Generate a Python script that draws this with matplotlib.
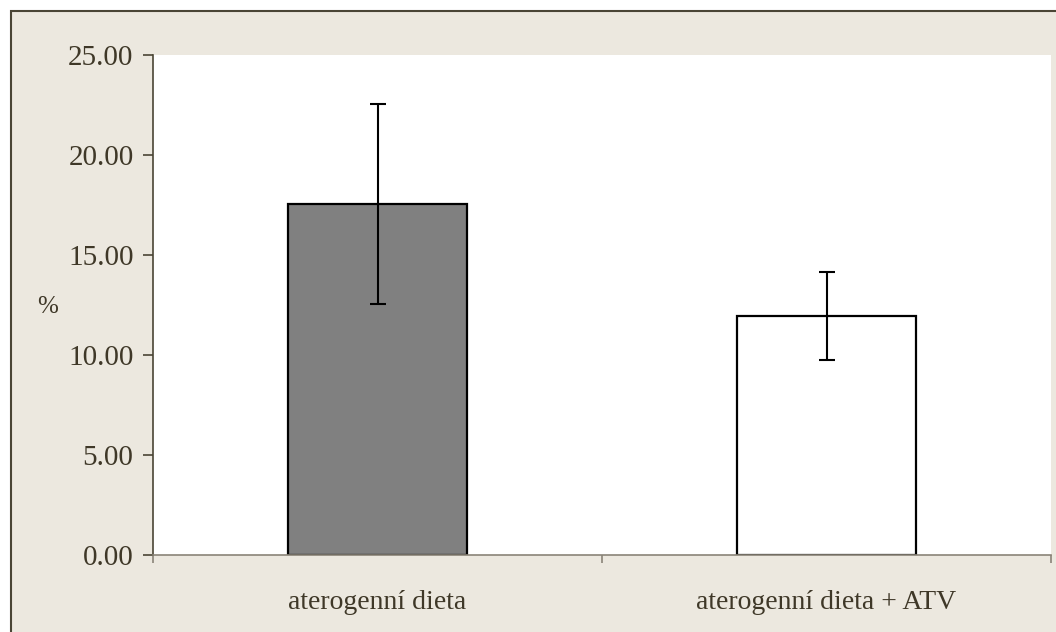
import matplotlib
matplotlib.use("Agg")
import matplotlib.pyplot as plt
from matplotlib.patches import Rectangle

categories = ["aterogenní dieta", "aterogenní dieta + ATV"]
values = [17.55, 11.95]
errors = [5.0, 2.2]
bar_colors = ["#808080", "#ffffff"]
yticks = [0, 5, 10, 15, 20, 25]
ytick_labels = ["0.00", "5.00", "10.00", "15.00", "20.00", "25.00"]

W, H = 1056, 632
fig = plt.figure(figsize=(W / 100, H / 100), dpi=100)
fig.patch.set_facecolor("white")

beige = "#ECE8DF"
text_col = "#3F3828"
fig.patches.append(Rectangle((11 / W, -0.05), 1.05, 1 - 11 / H + 0.05,
                             transform=fig.transFigure, facecolor=beige,
                             edgecolor="#4A4535", linewidth=1.5, zorder=-10))

ax = fig.add_axes([153 / W, 1 - 555 / H, (1051 - 153) / W, (555 - 55) / H])
ax.set_zorder(5)
ax.set_facecolor("white")

x = [0, 1]
ax.bar(x, values, width=0.4, color=bar_colors, edgecolor="black", linewidth=1.6, zorder=2)
ax.errorbar(x, values, yerr=errors, fmt="none", ecolor="black", elinewidth=1.5,
            capsize=5.5, capthick=1.5, zorder=3)

ax.set_xlim(-0.5, 1.5)
ax.set_ylim(0, 25)
ax.set_yticks(yticks)
ax.set_yticklabels(ytick_labels, fontsize=21, color=text_col, family="Liberation Serif")
ax.set_xticks([-0.5, 0.5, 1.5])
ax.set_xticklabels([])
ax.set_xticks(x, minor=True)
ax.set_xticklabels(categories, minor=True, fontsize=20, color=text_col, family="Liberation Serif")
ax.tick_params(axis="x", which="minor", length=0, pad=25)
ax.tick_params(axis="x", which="major", length=6, color="#8A8478", width=1.2, direction="out")
ax.tick_params(axis="y", length=7, color="#4A4535", width=1.2, direction="out", pad=7)

for s in ["top", "right"]:
    ax.spines[s].set_visible(False)
ax.spines["left"].set_color("#4A4535")
ax.spines["left"].set_linewidth(1.2)
ax.spines["bottom"].set_color("#8A8478")
ax.spines["bottom"].set_linewidth(1.2)

ax.set_ylabel("%", fontsize=18, color=text_col, family="Liberation Serif", rotation=0,
              labelpad=0, va="center", ha="center")
ax.yaxis.set_label_coords((48 - 153) / (1051 - 153), (555 - 307) / 500)

fig.savefig("out.png", dpi=100, facecolor=fig.get_facecolor())
